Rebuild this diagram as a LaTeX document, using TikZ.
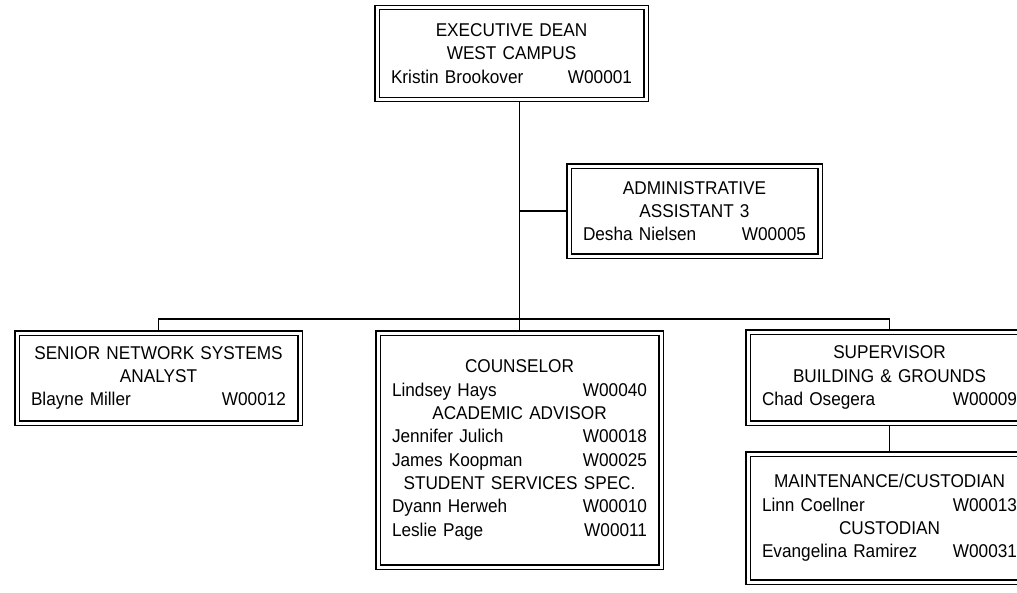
\documentclass[tikz,border=0pt]{standalone}
\usepackage{fontspec}
\setmainfont[FakeStretch=0.93]{Liberation Sans}
\usepackage{tikz}
\usetikzlibrary{positioning}

\newcommand{\emp}[2]{\leavevmode\hbox to\hsize{#1\hfill #2}}

\tikzset{
  post/.style={draw, double, double distance=3pt, line width=1.3pt,
    inner sep=0pt, outer sep=2.8pt, align=center,
    font=\fontsize{18.5}{23.3}\selectfont},
  link/.style={line width=1.3pt}
}

\begin{document}
\begin{tikzpicture}[x=1pt,y=-1pt]
\useasboundingbox (0,0) rectangle (1017,592);
\node [post, minimum width=269pt, minimum height=92pt, text width=241pt] (dean) at (511.5,53.5)
  {EXECUTIVE DEAN\\ WEST CAMPUS\\ \emp{Kristin Brookover}{W00001}};
\node [post, minimum width=251pt, minimum height=90pt, text width=223pt] (asst) at (694.5,211)
  {ADMINISTRATIVE\\ ASSISTANT 3\\ \emp{Desha Nielsen}{W00005}};
\node [post, minimum width=283pt, minimum height=90pt, text width=255pt] (sna) at (158.5,378)
  {SENIOR NETWORK SYSTEMS\\ ANALYST\\ \emp{Blayne Miller}{W00012}};
\node [post, minimum width=283pt, minimum height=234pt, text width=255pt] (couns) at (519.5,450)
  {COUNSELOR\\ \emp{Lindsey Hays}{W00040}\\ ACADEMIC ADVISOR\\
   \emp{Jennifer Julich}{W00018}\\ \emp{James Koopman}{W00025}\\
   STUDENT SERVICES SPEC.\\ \emp{Dyann Herweh}{W00010}\\ \emp{Leslie Page}{W00011}};
\node [post, minimum width=283pt, minimum height=91pt, text width=255pt] (sup) at (889.5,377.5)
  {SUPERVISOR\\ BUILDING \& GROUNDS\\ \emp{Chad Osegera}{W00009}};
\node [post, minimum width=283pt, minimum height=128pt, text width=255pt] (maint) at (889.5,518)
  {MAINTENANCE/CUSTODIAN\\ \emp{Linn Coellner}{W00013}\\ CUSTODIAN\\
   \emp{Evangelina Ramirez}{W00031}};
\coordinate (bus) at (519.5,319);
\draw [link] (dean.south -| couns.north) -- (couns.north);
\draw [link] (asst.west) -- (asst.west -| couns.north);
\draw [link] (sna.north) |- (bus) -| (sup.north);
\draw [link] (sup.south) -- (maint.north);
\end{tikzpicture}
\end{document}
